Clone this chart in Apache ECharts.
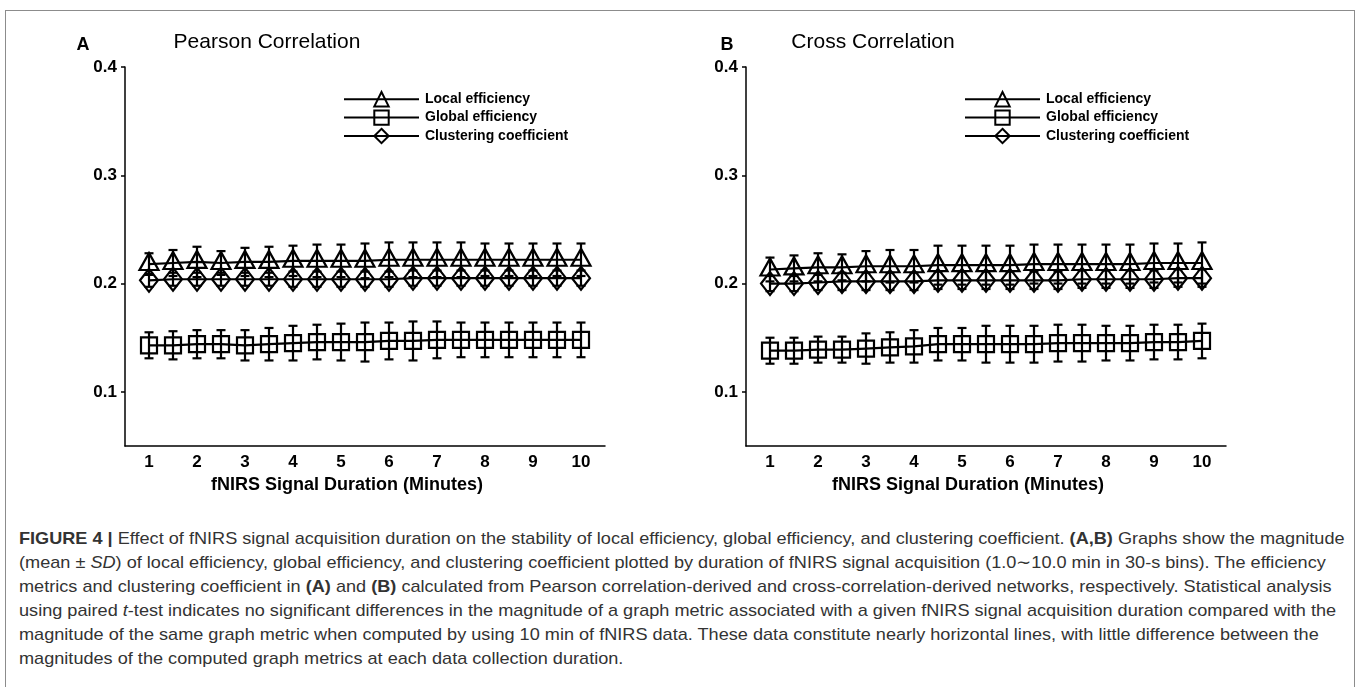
<!DOCTYPE html>
<html>
<head>
<meta charset="utf-8">
<script src="https://cdn.jsdelivr.net/npm/echarts@6/dist/echarts.min.js"></script>
<style>
html,body{margin:0;padding:0;background:#fff;}
#frame{position:absolute;left:5px;top:10px;width:1348px;height:720px;border:1.5px solid #8c8c8c;border-bottom:none;}
#chart{position:absolute;left:0;top:0;width:1358px;height:520px;}
#caption{position:absolute;left:19px;top:527px;font-family:'Liberation Sans',Arial,sans-serif;font-size:17px;line-height:24px;color:#333;white-space:nowrap;transform-origin:0 0;}
#caption div{height:24px;}
</style>
</head>
<body>
<div id="frame"></div>
<div id="chart"></div>
<div id="caption">
<div id="cap1"><b>FIGURE 4 |</b> Effect of fNIRS signal acquisition duration on the stability of local efficiency, global efficiency, and clustering coefficient. <b>(A,B)</b> Graphs show the magnitude</div>
<div>(mean ± <i>SD</i>) of local efficiency, global efficiency, and clustering coefficient plotted by duration of fNIRS signal acquisition (1.0∼10.0 min in 30-s bins). The efficiency</div>
<div>metrics and clustering coefficient in <b>(A)</b> and <b>(B)</b> calculated from Pearson correlation-derived and cross-correlation-derived networks, respectively. Statistical analysis</div>
<div>using paired <i>t</i>-test indicates no significant differences in the magnitude of a graph metric associated with a given fNIRS signal acquisition duration compared with the</div>
<div>magnitude of the same graph metric when computed by using 10 min of fNIRS data. These data constitute nearly horizontal lines, with little difference between the</div>
<div>magnitudes of the computed graph metrics at each data collection duration.</div>
</div>
<script>
// ---- data ----
const durations = [1, 1.5, 2, 2.5, 3, 3.5, 4, 4.5, 5, 5.5, 6, 6.5, 7, 7.5, 8, 8.5, 9, 9.5, 10];
const xTickLabels = [1, 2, 3, 4, 5, 6, 7, 8, 9, 10];
const yTickValues = [0.1, 0.2, 0.3, 0.4];
const metricNames = ['Local efficiency', 'Global efficiency', 'Clustering coefficient'];
const panelTitles = ['Pearson Correlation', 'Cross Correlation'];
const panelLetters = ['A', 'B'];
const xAxisName = 'fNIRS Signal Duration (Minutes)';

const pearsonLocalMean   = [0.218,0.219,0.220,0.219,0.220,0.220,0.221,0.221,0.221,0.221,0.222,0.222,0.222,0.222,0.222,0.222,0.222,0.222,0.222];
const pearsonLocalSD     = [0.010,0.012,0.014,0.011,0.013,0.014,0.014,0.015,0.015,0.016,0.016,0.016,0.016,0.016,0.015,0.015,0.015,0.015,0.015];
const pearsonGlobalMean  = [0.143,0.143,0.144,0.144,0.143,0.144,0.145,0.146,0.146,0.146,0.147,0.147,0.148,0.148,0.148,0.148,0.148,0.148,0.148];
const pearsonGlobalSD    = [0.012,0.013,0.013,0.013,0.014,0.015,0.016,0.016,0.017,0.018,0.017,0.018,0.017,0.016,0.016,0.016,0.016,0.016,0.016];
const pearsonClusterMean = [0.203,0.204,0.204,0.204,0.204,0.204,0.204,0.204,0.204,0.204,0.204,0.205,0.205,0.205,0.205,0.205,0.205,0.205,0.205];
const pearsonClusterSD   = [0.006,0.006,0.006,0.006,0.006,0.006,0.007,0.007,0.007,0.007,0.007,0.007,0.007,0.007,0.007,0.007,0.007,0.007,0.007];

const crossLocalMean   = [0.213,0.214,0.215,0.215,0.216,0.216,0.216,0.217,0.217,0.217,0.217,0.218,0.218,0.218,0.218,0.218,0.219,0.219,0.219];
const crossLocalSD     = [0.011,0.012,0.013,0.012,0.014,0.015,0.015,0.018,0.018,0.018,0.018,0.018,0.018,0.018,0.018,0.018,0.018,0.018,0.019];
const crossGlobalMean  = [0.138,0.138,0.139,0.139,0.140,0.141,0.142,0.144,0.144,0.144,0.144,0.144,0.145,0.145,0.145,0.145,0.146,0.146,0.147];
const crossGlobalSD    = [0.012,0.012,0.012,0.012,0.014,0.014,0.015,0.015,0.015,0.017,0.017,0.017,0.017,0.017,0.016,0.016,0.016,0.016,0.016];
const crossClusterMean = [0.200,0.200,0.201,0.202,0.202,0.202,0.202,0.203,0.203,0.203,0.203,0.203,0.203,0.204,0.204,0.204,0.204,0.205,0.205];
const crossClusterSD   = [0.007,0.007,0.007,0.008,0.008,0.008,0.008,0.008,0.008,0.008,0.008,0.008,0.008,0.008,0.008,0.008,0.008,0.008,0.008];

const panels = [
  [[pearsonLocalMean, pearsonLocalSD], [pearsonGlobalMean, pearsonGlobalSD], [pearsonClusterMean, pearsonClusterSD]],
  [[crossLocalMean, crossLocalSD], [crossGlobalMean, crossGlobalSD], [crossClusterMean, crossClusterSD]]
];

// ---- layout & styles ----
const FONT = "'Liberation Sans', Arial, Helvetica, sans-serif";
const gridLefts = [125, 746];
const gridTop = 67, gridW = 480, gridH = 379;
const letterX = [83, 727];
const titleX = [267, 873];
const symbols = [
  { symbol: 'triangle', size: [19, 17], offset: [0, -2.5] },
  { symbol: 'rect', size: [16, 16], offset: [0, 0] },
  { symbol: 'diamond', size: [18, 23], offset: [0, 0] }
];

const chart = echarts.init(document.getElementById('chart'));

function errorBarRender(params, api) {
  const x = api.value(0), m = api.value(1), s = api.value(2);
  const top = api.coord([x, m + s]);
  const bot = api.coord([x, m - s]);
  const hw = 4.5;
  const st = { stroke: '#000', lineWidth: 2.2 };
  return {
    type: 'group',
    children: [
      { type: 'line', shape: { x1: top[0], y1: top[1], x2: bot[0], y2: bot[1] }, style: st },
      { type: 'line', shape: { x1: top[0] - hw, y1: top[1], x2: top[0] + hw, y2: top[1] }, style: st },
      { type: 'line', shape: { x1: bot[0] - hw, y1: bot[1], x2: bot[0] + hw, y2: bot[1] }, style: st }
    ]
  };
}

const grids = [], xAxes = [], yAxes = [], series = [], legends = [], graphics = [];
panels.forEach((panel, p) => {
  grids.push({ left: gridLefts[p], top: gridTop, width: gridW, height: gridH });
  xAxes.push({
    type: 'value', gridIndex: p, min: 0.5, max: 10.5,
    axisLine: { show: true, onZero: false, lineStyle: { color: '#000', width: 1.5 } },
    axisTick: { show: false },
    splitLine: { show: false },
    axisLabel: { customValues: xTickLabels, color: '#000', fontWeight: 'bold', fontSize: 17, fontFamily: FONT, margin: 8 },
    name: xAxisName, nameLocation: 'middle', nameGap: 30,
    nameTextStyle: { color: '#000', fontWeight: 'bold', fontSize: 18, fontFamily: FONT, padding: [0, 36, 0, 0] }
  });
  yAxes.push({
    type: 'value', gridIndex: p, min: 0.05, max: 0.4,
    axisLine: { show: true, onZero: false, lineStyle: { color: '#000', width: 1.5 } },
    axisTick: { show: true, customValues: yTickValues, length: 4, lineStyle: { color: '#000', width: 1.5 } },
    splitLine: { show: false },
    axisLabel: { customValues: yTickValues, formatter: v => v.toFixed(1), color: '#000', fontWeight: 'bold', fontSize: 17, fontFamily: FONT, margin: 8 }
  });
  panel.forEach((metric, k) => {
    const [mean, sd] = metric;
    series.push({
      type: 'custom', name: metricNames[k] + ' SD', xAxisIndex: p, yAxisIndex: p,
      renderItem: errorBarRender,
      data: durations.map((d, i) => [d, mean[i], sd[i]]),
      encode: { x: 0, y: 1 }, z: 2, silent: true
    });
  });
  panel.forEach((metric, k) => {
    const [mean] = metric;
    series.push({
      type: 'line', name: metricNames[k], xAxisIndex: p, yAxisIndex: p,
      data: durations.map((d, i) => [d, mean[i]]),
      symbol: symbols[k].symbol, symbolSize: symbols[k].size, symbolOffset: symbols[k].offset,
      showAllSymbol: true,
      lineStyle: { color: '#000', width: 2.2 },
      itemStyle: { color: 'rgba(255,255,255,0)', borderColor: '#000', borderWidth: 2.2 },
      emphasis: { disabled: true }, z: 3, silent: true
    });
  });
  legends.push({
    data: metricNames, orient: 'vertical',
    left: gridLefts[p] + 213, top: 86,
    itemWidth: 75, itemHeight: 18, itemGap: 2,
    selectedMode: false,
    textStyle: { color: '#000', fontWeight: 'bold', fontSize: 14, fontFamily: FONT, padding: [0, 0, 0, 1] }
  });
  graphics.push({
    type: 'text', x: letterX[p], y: 45,
    style: { text: panelLetters[p], font: 'bold 18px ' + FONT, fill: '#000', align: 'center', verticalAlign: 'middle' }
  });
  graphics.push({
    type: 'text', x: titleX[p], y: 42,
    style: { text: panelTitles[p], font: '21px ' + FONT, fill: '#000', align: 'center', verticalAlign: 'middle' }
  });
});

chart.setOption({
  animation: false,
  backgroundColor: 'transparent',
  grid: grids, xAxis: xAxes, yAxis: yAxes, series: series, legend: legends, graphic: graphics
});

// fit caption width
const cap = document.getElementById('caption');
const w1 = document.getElementById('cap1').scrollWidth;
const sc = 1326 / w1;
cap.style.transform = 'scaleX(' + sc + ')';
</script>
</body>
</html>
